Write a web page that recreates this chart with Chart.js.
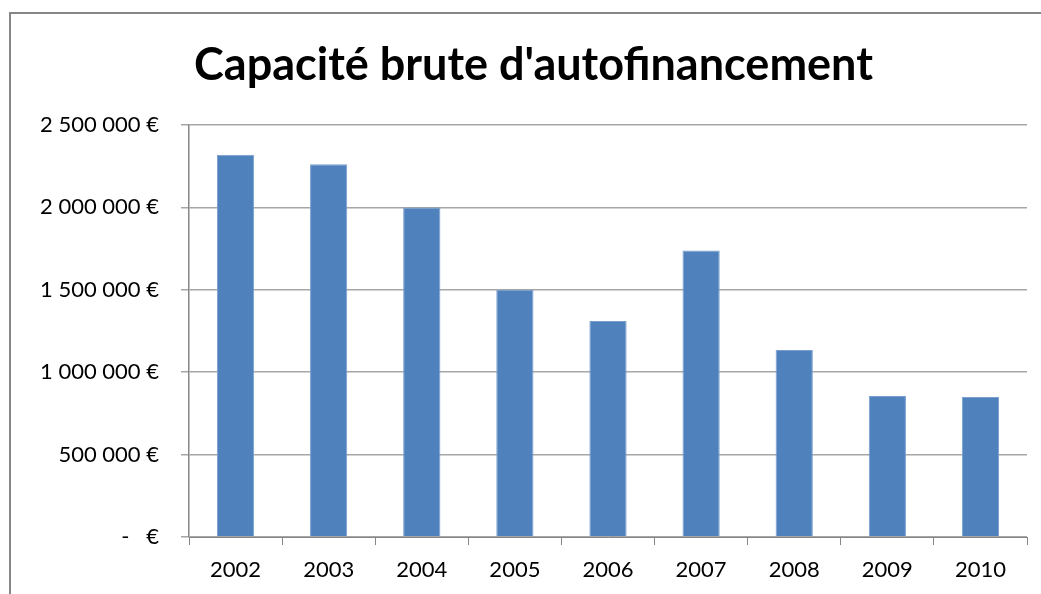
<!DOCTYPE html>
<html><head><meta charset="utf-8">
<script src="https://cdn.jsdelivr.net/npm/chart.js@4/dist/chart.umd.min.js"></script>
<style>html,body{margin:0;padding:0;background:#fff;}#wrap{position:relative;width:1041px;height:594px;}</style>
</head><body><div id="wrap"><canvas id="c" width="1041" height="594"></canvas></div>
<script>
const categories = ['2002','2003','2004','2005','2006','2007','2008','2009','2010'];
const values = [2320000, 2262000, 2000000, 1500000, 1310000, 1738000, 1135000, 856000, 850000];
const yTickLabels = ['-   €', '500 000 €', '1 000 000 €', '1 500 000 €', '2 000 000 €', '2 500 000 €'];
const titleText = "Capacité brute d'autofinancement";

const frame = {
  id: 'frame',
  beforeDraw(chart) {
    const ctx = chart.ctx;
    ctx.save();
    ctx.fillStyle = '#fff';
    ctx.fillRect(0, 0, chart.width, chart.height);
    ctx.strokeStyle = '#868686';
    ctx.lineWidth = 2;
    ctx.strokeRect(10, 13, 1200, 800);
    ctx.restore();
  }
};

new Chart(document.getElementById('c'), {
  type: 'bar',
  data: {
    labels: categories,
    datasets: [{
      data: values,
      backgroundColor: '#4F81BD',
      borderColor: '#7a9fd0',
      borderWidth: 1,
      barPercentage: 0.4,
      categoryPercentage: 1.0
    }]
  },
  options: {
    responsive: false,
    animation: false,
    layout: { padding: { left: 40, right: 14, top: 0, bottom: 0 } },
    plugins: {
      legend: { display: false },
      tooltip: { enabled: false },
      title: {
        display: true,
        text: titleText,
        color: '#000',
        font: { family: 'Lato, "Open Sans", sans-serif', size: 45, weight: 'bold' },
        padding: { top: 38, bottom: 33 }
      }
    },
    scales: {
      x: {
        grid: { drawOnChartArea: false, drawTicks: true, tickLength: 8, color: '#868686', offset: true },
        border: { color: '#868686', width: 1 },
        ticks: { color: '#000', font: { family: 'Lato, sans-serif', size: 22 }, padding: 12 },
        afterFit(s) { s.height = 57; }
      },
      y: {
        min: 0, max: 2500000,
        grid: { color: '#a6a6a6', tickLength: 8, lineWidth: 1.5 },
        border: { color: '#868686', width: 1.5 },
        ticks: {
          stepSize: 500000,
          color: '#000',
          font: { family: 'Lato, sans-serif', size: 22 },
          padding: 22,
          callback: (v) => yTickLabels[Math.round(v / 500000)]
        },
        afterFit(s) { s.width = 149; }
      }
    }
  },
  plugins: [frame]
});
</script></body></html>
